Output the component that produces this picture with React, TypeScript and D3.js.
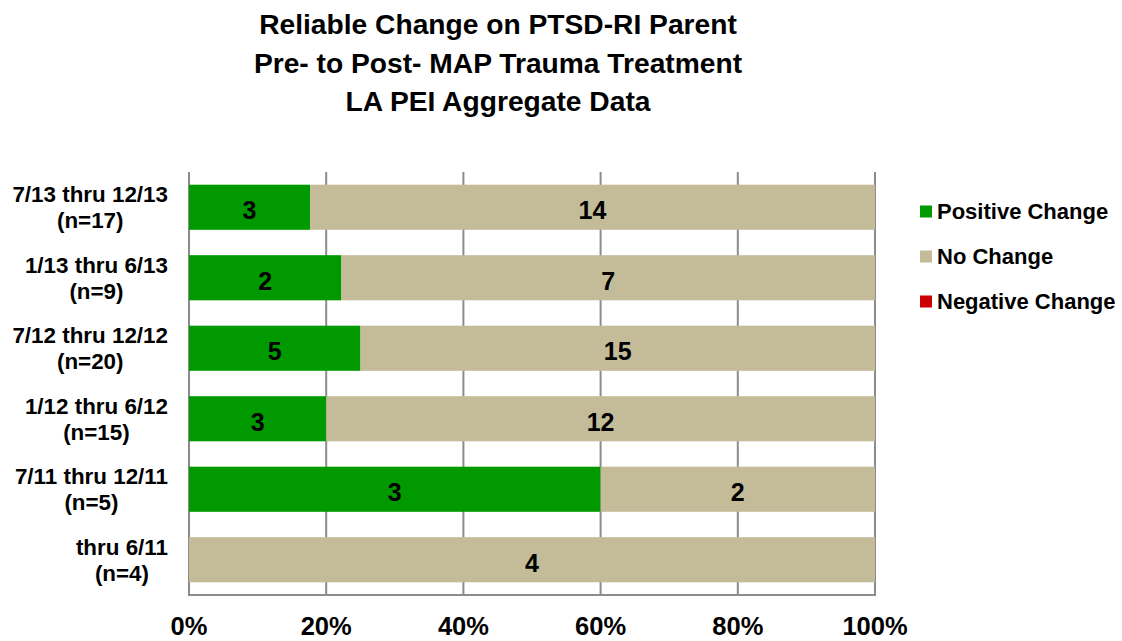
import React, { useEffect, useRef } from "react";
import * as d3 from "d3";

const titleLines = [
  "Reliable Change on PTSD-RI Parent",
  "Pre- to Post- MAP Trauma Treatment",
  "LA PEI Aggregate Data",
];
const categoryLines: string[][] = [
  ["7/13 thru 12/13", "(n=17)"],
  ["1/13 thru 6/13", "(n=9)"],
  ["7/12 thru 12/12", "(n=20)"],
  ["1/12 thru 6/12", "(n=15)"],
  ["7/11 thru 12/11", "(n=5)"],
  ["thru 6/11", "(n=4)"],
];
const seriesNames = ["Positive Change", "No Change", "Negative Change"];
const seriesColors = ["#009900", "#C4BC99", "#CC0000"];
const positiveValues = [3, 2, 5, 3, 3, 0];
const noChangeValues = [14, 7, 15, 12, 2, 4];
const negativeValues = [0, 0, 0, 0, 0, 0];
const xTicks = [0, 0.2, 0.4, 0.6, 0.8, 1.0];

const FONT = "'Liberation Sans', Arial, Helvetica, sans-serif";

export default function App() {
  const ref = useRef<SVGSVGElement>(null);

  useEffect(() => {
    const svg = d3.select(ref.current);
    svg.selectAll("*").remove();

    const left = 189, right = 875, top = 172, bottom = 595;

    // title
    const tg = svg.append("g").attr("font-family", FONT).attr("font-weight", "bold").attr("font-size", 28.2).attr("fill", "#000");
    titleLines.forEach((t, i) => {
      tg.append("text").attr("x", 498).attr("y", 34 + i * 38.5).attr("text-anchor", "middle").text(t);
    });

    const keys = categoryLines.map((_, i) => String(i));
    const y = d3.scaleBand<string>().domain(keys).range([top, bottom]).paddingInner(0.36).paddingOuter(0.18);
    const x = d3.scaleLinear().domain([0, 1]).range([left, right]);

    // gridlines
    const grid = svg.append("g");
    xTicks.forEach((t) => {
      grid.append("line").attr("x1", x(t)).attr("x2", x(t)).attr("y1", top).attr("y2", bottom)
        .attr("stroke", "#8c8c8c").attr("stroke-width", 2);
    });
    grid.append("line").attr("x1", left - 1).attr("x2", right + 1).attr("y1", bottom).attr("y2", bottom)
      .attr("stroke", "#8c8c8c").attr("stroke-width", 2);

    // stacked data
    const rows = keys.map((k, i) => {
      const vals = [positiveValues[i], noChangeValues[i], negativeValues[i]];
      const total = d3.sum(vals);
      return { k, vals, total };
    });

    const bars = svg.append("g");
    const labels = svg.append("g").attr("font-family", FONT).attr("font-weight", "bold").attr("font-size", 25).attr("fill", "#000");
    rows.forEach((r) => {
      let cum = 0;
      r.vals.forEach((v, si) => {
        if (v <= 0) return;
        const x0 = x(cum / r.total);
        const x1 = x((cum + v) / r.total);
        bars.append("rect").attr("x", x0).attr("y", y(r.k)!).attr("width", x1 - x0).attr("height", y.bandwidth())
          .attr("fill", seriesColors[si]);
        labels.append("text").attr("x", (x0 + x1) / 2).attr("y", y(r.k)! + y.bandwidth() / 2 + 3)
          .attr("dy", "0.36em").attr("text-anchor", "middle").text(String(v));
        cum += v;
      });
    });

    // category labels
    const cg = svg.append("g").attr("font-family", FONT).attr("font-weight", "bold").attr("font-size", 22.4).attr("fill", "#000");
    const rightEdge = 168;
    rows.forEach((r, i) => {
      const lines = categoryLines[i];
      const cy = y(r.k)! + y.bandwidth() / 2;
      const texts = lines.map((l, li) =>
        cg.append("text").attr("y", cy + (li - (lines.length - 1) / 2) * 26).attr("dy", "0.36em")
          .attr("text-anchor", "middle").text(l)
      );
      const maxW = d3.max(texts, (t) => (t.node() as SVGTextElement).getComputedTextLength()) || 0;
      texts.forEach((t) => t.attr("x", rightEdge - maxW / 2));
    });

    // x tick labels
    const xg = svg.append("g").attr("font-family", FONT).attr("font-weight", "bold").attr("font-size", 25.5).attr("fill", "#000");
    xTicks.forEach((t) => {
      xg.append("text").attr("x", x(t)).attr("y", 635).attr("text-anchor", "middle").text(d3.format(".0%")(t));
    });

    // legend
    const lg = svg.append("g").attr("font-family", FONT).attr("font-weight", "bold").attr("font-size", 22).attr("fill", "#000");
    seriesNames.forEach((n, i) => {
      const cy = 211.5 + i * 45;
      lg.append("rect").attr("x", 920).attr("y", cy - 6).attr("width", 12).attr("height", 12).attr("fill", seriesColors[i]);
      lg.append("text").attr("x", 937).attr("y", cy).attr("dy", "0.36em").text(n);
    });
  }, []);

  return (
    <svg ref={ref} width={1122} height={641} style={{ position: "absolute", left: 0, top: 0, background: "#fff" }} />
  );
}
